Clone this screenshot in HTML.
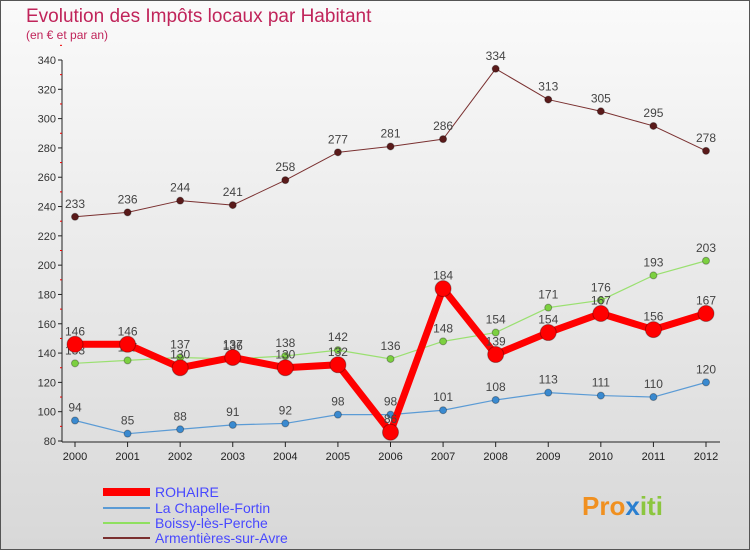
<!DOCTYPE html>
<html><head><meta charset="utf-8"><style>
body{margin:0;width:750px;height:550px;overflow:hidden;font-family:"Liberation Sans",sans-serif}
#wrap{position:absolute;left:0;top:0;width:748px;height:548px;border:1px solid #555;background:linear-gradient(#fafafa,#d8d8d8)}
</style></head><body>
<div id="wrap">
<svg id="chart" width="750" height="550" style="position:absolute;left:-1px;top:-1px">
<text x="26" y="22" font-size="19" fill="#c0245a">Evolution des Impôts locaux par Habitant</text>
<text x="26" y="39" font-size="12" fill="#c0245a">(en € et par an)</text>
<g id="axes"></g><g id="series"></g>
<g font-size="14">
<line x1="103" y1="492" x2="150" y2="492" stroke="#f00" stroke-width="8"/><text x="155" y="497" fill="#4848ff">ROHAIRE</text>
<line x1="103" y1="508" x2="150" y2="508" stroke="#5b9bd5" stroke-width="2"/><text x="155" y="513" fill="#4848ff">La Chapelle-Fortin</text>
<line x1="103" y1="523" x2="150" y2="523" stroke="#8fe060" stroke-width="2"/><text x="155" y="528" fill="#4848ff">Boissy-lès-Perche</text>
<line x1="103" y1="538" x2="150" y2="538" stroke="#7a3030" stroke-width="2"/><text x="155" y="543" fill="#4848ff">Armentières-sur-Avre</text>
</g>
<text x="582" y="515" font-size="26" font-weight="bold" fill="#f09020">Pro<tspan fill="#2a7fd0">x</tspan><tspan fill="#8cc63f">iti</tspan></text>
</svg></div>
<script>
const years=[2000,2001,2002,2003,2004,2005,2006,2007,2008,2009,2010,2011,2012];
const yTicks=[80,100,120,140,160,180,200,220,240,260,280,300,320,340];
const rohaire=[146,146,130,137,130,132,86,184,139,154,167,156,167];
const chapelle=[94,85,88,91,92,98,98,101,108,113,111,110,120];
const boissy=[133,135,137,136,138,142,136,148,154,171,176,193,203];
const armentieres=[233,236,244,241,258,277,281,286,334,313,305,295,278];
const NS="http://www.w3.org/2000/svg";
const x=i=>75+i*(706-75)/12;
const y=v=>441-(v-80)*(441-60)/260;
function mk(t,a,p){const e=document.createElementNS(NS,t);for(const k in a)e.setAttribute(k,a[k]);p.appendChild(e);return e;}
const ax=document.getElementById('axes');
const yl=mk('line',{x1:62,y1:60,x2:62,y2:442,stroke:'#222'},ax);


const xl=mk('line',{x1:62,y1:442,x2:720,y2:442,stroke:'#222'},ax);


yTicks.forEach(v=>{mk('line',{x1:58,y1:y(v),x2:62,y2:y(v),stroke:'#222'},ax);
mk('line',{x1:60,y1:y(v+10),x2:62,y2:y(v+10),stroke:'#e00'},ax);
const t=mk('text',{x:56,y:y(v)+4,'text-anchor':'end','font-size':11,fill:'#333'},ax);t.textContent=v;

});
years.forEach((yr,i)=>{mk('line',{x1:x(i),y1:442,x2:x(i),y2:447,stroke:'#222'},ax);
const t=mk('text',{x:x(i),y:460,'text-anchor':'middle','font-size':11,fill:'#222'},ax);t.textContent=yr;

});
const sg=document.getElementById('series');
function series(data,name,color,w,r,dot){
const g=mk('g',{},sg);


mk('polyline',{points:data.map((v,i)=>x(i)+','+y(v)).join(' '),fill:'none',stroke:color,'stroke-width':w,'stroke-linejoin':'round'},g);
data.forEach((v,i)=>{const c=mk('circle',{cx:x(i),cy:y(v),r:r,fill:dot,stroke:'rgba(0,0,0,0.3)'},g);


const t=mk('text',{x:x(i),y:y(v)-9,'text-anchor':'middle','font-size':12,fill:'#444'},g);t.textContent=v;

});}
series(armentieres,'armentieres-series','#7a3030',1,3.5,'#5a1a1a');
series(boissy,'boissy-series','#9ae070',1.2,3.5,'#7cd040');
series(chapelle,'chapelle-series','#5b9bd5',1.2,3.5,'#3a8ad0');
series(rohaire,'rohaire-series','#f00',7,8,'#f00');
</script>
</body></html>
